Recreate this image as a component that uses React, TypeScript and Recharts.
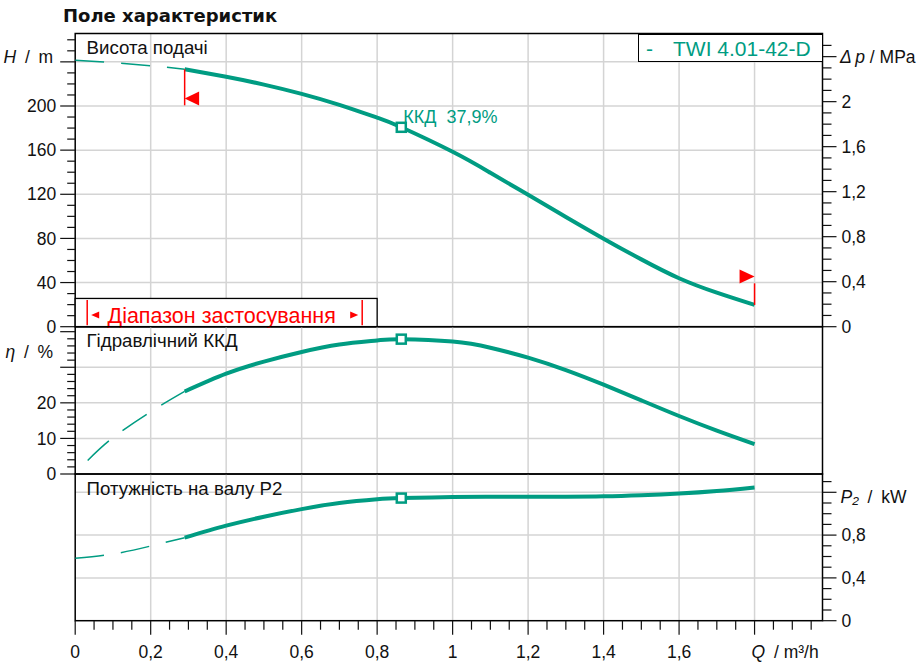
import {
  Legend,
  Line,
  LineChart,
  ReferenceArea,
  ReferenceDot,
  ReferenceLine,
  XAxis,
  YAxis,
} from "recharts";

const TEAL = "#009c82";
const GRID = "#d4d4d4";
const INK = "#111";
const FONT = '"Liberation Sans", Arial, sans-serif';
const SP = "\u2002";

// Q axis, m³/h
const Q_MAX = 1.98;
const qGrid = [0.2, 0.4, 0.6, 0.8, 1, 1.2, 1.4, 1.6, 1.8];
const qTicks = Array.from({ length: 40 }, (_, i) => (i * 5) / 100);

// flow points: dashed part (outside range) and working part
const qDash = [0, 0.1, 0.2, 0.29];
const qRun = [0.29, 0.4, 0.5, 0.6, 0.7, 0.8, 0.864, 1.0, 1.1, 1.2, 1.3, 1.4, 1.5, 1.6, 1.7, 1.8];

// Висота подачі, m
const headDash = [241.4, 239.3, 236.5, 233.3];
const headRun = [233.3, 226.5, 219.4, 211, 201, 189.4, 180.7, 158.5, 139.5, 119.5, 99.5, 79.8, 61, 43.9, 30.8, 19.7];

// Гідравлічний ККД, %
const qEffDash = [0.033, 0.1, 0.2, 0.29];
const effDash = [3.8, 10.2, 17.5, 23.2];
const effRun = [23.2, 28.2, 31.6, 34.3, 36.4, 37.55, 37.9, 37.25, 35.5, 32.7, 29.2, 25.1, 20.7, 16.3, 12.2, 8.4];

// Потужність на валу P2, kW
const powDash = [0.583, 0.623, 0.698, 0.776];
const powRun = [0.776, 0.888, 0.972, 1.043, 1.1, 1.135, 1.146, 1.156, 1.158, 1.158, 1.159, 1.162, 1.172, 1.188, 1.212, 1.245];

// best point
const bestQ = 0.864;
const bestHead = 180.7;
const bestEff = 37.9;
const bestPow = 1.146;

// application range limits
const limLowQ = 0.29;
const limLowH = [233.3, 200.6, 206.8];
const limHighQ = 1.8;
const limHighH = [19.7, 39.3, 45.5];
const rangeBox = { q: [0, 0.8], h: [0, 25.6] };

// axes
const H_MAX = 265.7;
const hTicks = Array.from({ length: 27 }, (_, i) => i * 10);
const hGrid = [40, 80, 120, 160, 200, 240];
const DP_MAX = H_MAX / 101.97;
const dpTicks = Array.from({ length: 26 }, (_, i) => i / 10);
const ETA_MAX = 41.4;
const etaTicks = Array.from({ length: 21 }, (_, i) => i * 2);
const etaGrid = [10, 20, 30];
const P_MAX = 1.371;
const pTicks = Array.from({ length: 14 }, (_, i) => i / 10);
const pGrid = [0.4, 0.8, 1.2];

const rows = (qs: number[], vs: number[]) => qs.map((q, i) => ({ q, v: vs[i] }));
const fmt = (v: number) => String(v).replace(".", ",");

const txt = { fontFamily: FONT, fontSize: 17.5, fill: INK };

function HTick({ x, y, payload }: any) {
  const v = payload.value;
  const major = v % 40 === 0;
  return (
    <g>
      <line x1={x} x2={x - (major ? 15 : 8)} y1={y} y2={y} stroke={INK} strokeWidth={1.2} />
      {major && v < 240 && (
        <text x={x - 19} y={y} dy="0.35em" textAnchor="end" {...txt}>{v}</text>
      )}
      {v === 240 && (
        <text x={x - 22} y={y - 5} dy="0.35em" textAnchor="end" {...txt}>
          <tspan fontStyle="italic">H</tspan>{`${SP}/${SP}m`}
        </text>
      )}
    </g>
  );
}

function DpTick({ x, y, payload }: any) {
  const v = payload.value;
  const major = Math.round(v * 10) % 4 === 0;
  return (
    <g>
      <line x1={x} x2={x + (major ? 14 : 9)} y1={y} y2={y} stroke={INK} strokeWidth={1.2} />
      {major && v < 2.4 && (
        <text x={x + 19} y={y} dy="0.35em" textAnchor="start" {...txt}>{fmt(v)}</text>
      )}
      {v === 2.4 && (
        <text x={x + 17.5} y={y} dy="0.35em" textAnchor="start" {...txt}>
          <tspan fontStyle="italic">{"Δ\u2009p"}</tspan>{" / MPa"}
        </text>
      )}
    </g>
  );
}

function EtaTick({ x, y, payload }: any) {
  const v = payload.value;
  const major = v % 10 === 0;
  return (
    <g>
      <line x1={x} x2={x - (major ? 15 : 8)} y1={y} y2={y} stroke={INK} strokeWidth={1.2} />
      {major && v <= 20 && (
        <text x={x - 19} y={y} dy="0.35em" textAnchor="end" {...txt}>{v}</text>
      )}
      {v === 34 && (
        <text x={x - 22} y={y - 1.5} dy="0.35em" textAnchor="end" {...txt}>
          <tspan fontStyle="italic">η</tspan>{`${SP}/${SP}%`}
        </text>
      )}
    </g>
  );
}

function PTick({ x, y, payload }: any) {
  const v = payload.value;
  const major = Math.round(v * 10) % 4 === 0;
  return (
    <g>
      <line x1={x} x2={x + (major ? 14 : 9)} y1={y} y2={y} stroke={INK} strokeWidth={1.2} />
      {major && v < 1.2 && (
        <text x={x + 19} y={y} dy="0.35em" textAnchor="start" {...txt}>{fmt(v)}</text>
      )}
      {v === 1.2 && (
        <text x={x + 18} y={y + 5} dy="0.35em" textAnchor="start" {...txt}>
          <tspan fontStyle="italic">P₂</tspan>{`${SP}/${SP}kW`}
        </text>
      )}
    </g>
  );
}

function QTick({ x, y, payload }: any) {
  const v = payload.value;
  const major = Math.round(v * 100) % 20 === 0;
  return (
    <g>
      <line x1={x} x2={x} y1={y} y2={y + (major ? 14 : 9)} stroke={INK} strokeWidth={1.2} />
      {major && v < 1.7 && (
        <text x={x} y={y + 37.5} textAnchor="middle" {...txt}>{fmt(v)}</text>
      )}
      {v === 1.8 && (
        <text x={x - 3} y={y + 37.5} textAnchor="start" {...txt}>
          <tspan fontStyle="italic">Q</tspan>{`${SP}/ m³/h`}
        </text>
      )}
    </g>
  );
}

const frame = (title: string) => (p: any) => (
  <g>
    <rect x={p.x} y={p.y} width={p.width} height={p.height} fill="none" stroke="#000" strokeWidth={1.5} />
    <text x={p.x + 11.3} y={p.y + 20.5} fontFamily={FONT} fontSize={18.7} fill={INK}>{title}</text>
  </g>
);

const rangeShape = (p: any) => {
  const { x, y, width, height } = p;
  const cy = y + 16.5;
  const lx = x + 12;
  const rx = x + 287;
  return (
    <g>
      <rect x={x} y={y} width={width} height={height} fill="#fff" stroke="#000" strokeWidth={1.3} />
      <line x1={lx} x2={lx} y1={y + 1.5} y2={y + height - 1.5} stroke="red" strokeWidth={1.5} />
      <line x1={rx} x2={rx} y1={y + 1.5} y2={y + height - 1.5} stroke="red" strokeWidth={1.5} />
      <polygon points={`${lx + 4},${cy} ${lx + 12},${cy - 3.5} ${lx + 12},${cy + 3.5}`} fill="red" />
      <polygon points={`${rx - 4},${cy} ${rx - 12},${cy - 3.5} ${rx - 12},${cy + 3.5}`} fill="red" />
      <text x={x + 146.5} y={y + 24.2} textAnchor="middle" fontFamily={FONT} fontSize={21.5} fill="red">
        Діапазон застосування
      </text>
    </g>
  );
};

const flagLeft = (p: any) => (
  <polygon points={`${p.cx},${p.cy} ${p.cx + 14.5},${p.cy - 7} ${p.cx + 14.5},${p.cy + 7}`} fill="red" />
);
const flagRight = (p: any) => (
  <polygon points={`${p.cx},${p.cy} ${p.cx - 15},${p.cy - 7} ${p.cx - 15},${p.cy + 7}`} fill="red" />
);

const square = (label?: string) => (p: any) => (
  <g>
    <rect x={p.cx - 4.5} y={p.cy - 4.5} width={9} height={9} fill="#fff" stroke={TEAL} strokeWidth={2.5} />
    {label && (
      <text x={p.cx + 2} y={p.cy - 4.5} fontFamily={FONT} fontSize={18} fill={TEAL}>{label}</text>
    )}
  </g>
);

const dashProps = {
  type: "natural" as const,
  dataKey: "v",
  stroke: TEAL,
  strokeWidth: 1.5,
  strokeDasharray: "29 17",
  dot: false,
  activeDot: false,
  isAnimationActive: false,
};
const runProps = {
  type: "natural" as const,
  dataKey: "v",
  stroke: TEAL,
  strokeWidth: 4,
  dot: false,
  activeDot: false,
  isAnimationActive: false,
};

const LegendBox = () => (
  <div
    style={{
      boxSizing: "border-box",
      width: 184.5,
      height: 28.5,
      border: "1.3px solid #000",
      background: "#fff",
      fontFamily: FONT,
      fontSize: 21,
      lineHeight: "26px",
      paddingTop: 1.5,
      color: TEAL,
      whiteSpace: "nowrap",
    }}
  >
    <span style={{ marginLeft: 7 }}>-</span>
    <span style={{ marginLeft: 20 }}>TWI 4.01-42-D</span>
  </div>
);

const vGrid = (yAxisId: string) =>
  qGrid.map((q) => (
    <ReferenceLine key={`v${q}`} x={q} yAxisId={yAxisId} stroke={GRID} strokeWidth={1.5} zIndex={50} />
  ));
const hGridLines = (yAxisId: string, values: number[]) =>
  values.map((v) => (
    <ReferenceLine key={`h${v}`} y={v} yAxisId={yAxisId} stroke={GRID} strokeWidth={1.5} zIndex={50} />
  ));

export default function App() {
  return (
    <div style={{ position: "absolute", left: 0, top: 0, width: 917, height: 663, background: "#fff" }}>
      <div
        style={{
          position: "absolute",
          left: 63,
          top: 6.8,
          fontFamily: '"DejaVu Sans", sans-serif',
          fontWeight: "bold",
          fontSize: 18,
          lineHeight: "18px",
          color: INK,
          whiteSpace: "nowrap",
        }}
      >
        Поле характеристик
      </div>

      {/* Висота подачі */}
      <div style={{ position: "absolute", left: 0, top: 0 }}>
        <LineChart width={917} height={340} margin={{ top: 33.5, right: 34.5, bottom: 13.3, left: 15.2 }}>
          <XAxis type="number" dataKey="q" domain={[0, Q_MAX]} allowDataOverflow hide />
          <YAxis
            yAxisId="h"
            type="number"
            domain={[0, H_MAX]}
            allowDataOverflow
            ticks={hTicks}
            interval={0}
            width={60}
            tickSize={0}
            tickMargin={0}
            axisLine={false}
            tickLine={false}
            tick={(p: any) => <HTick {...p} />}
          />
          <YAxis
            yAxisId="dp"
            orientation="right"
            type="number"
            domain={[0, DP_MAX]}
            allowDataOverflow
            ticks={dpTicks}
            interval={0}
            width={60}
            tickSize={0}
            tickMargin={0}
            axisLine={false}
            tickLine={false}
            tick={(p: any) => <DpTick {...p} />}
          />
          {vGrid("h")}
          {hGridLines("h", hGrid)}
          <ReferenceArea yAxisId="h" x1={0} x2={Q_MAX} y1={0} y2={H_MAX} shape={frame("Висота подачі")} zIndex={60} />
          <ReferenceArea
            yAxisId="h"
            x1={rangeBox.q[0]}
            x2={rangeBox.q[1]}
            y1={rangeBox.h[0]}
            y2={rangeBox.h[1]}
            shape={rangeShape}
            zIndex={70}
          />
          <Line yAxisId="h" data={rows(qDash, headDash)} {...dashProps} />
          <Line yAxisId="h" data={rows(qRun, headRun)} {...runProps} />
          <ReferenceLine
            yAxisId="h"
            segment={[{ x: limLowQ, y: limLowH[0] }, { x: limLowQ, y: limLowH[1] }]}
            stroke="red"
            strokeWidth={1.5}
            zIndex={450}
          />
          <ReferenceLine
            yAxisId="h"
            segment={[{ x: limHighQ, y: limHighH[0] }, { x: limHighQ, y: limHighH[1] }]}
            stroke="red"
            strokeWidth={1.5}
            zIndex={450}
          />
          <ReferenceDot yAxisId="h" x={limLowQ} y={limLowH[2]} shape={flagLeft} zIndex={450} />
          <ReferenceDot yAxisId="h" x={limHighQ} y={limHighH[2]} shape={flagRight} zIndex={450} />
          <ReferenceDot yAxisId="h" x={bestQ} y={bestHead} shape={square("ККД\u00a0\u00a037,9%")} zIndex={600} />
          <Legend
            verticalAlign="middle"
            align="center"
            wrapperStyle={{ left: 638, top: 33.5, width: 184.5, height: 28.5 }}
            content={() => <LegendBox />}
          />
        </LineChart>
      </div>

      {/* Гідравлічний ККД */}
      <div style={{ position: "absolute", left: 0, top: 320 }}>
        <LineChart width={917} height={165} margin={{ top: 6.7, right: 94.5, bottom: 11, left: 15.2 }}>
          <XAxis type="number" dataKey="q" domain={[0, Q_MAX]} allowDataOverflow hide />
          <YAxis
            yAxisId="eta"
            type="number"
            domain={[0, ETA_MAX]}
            allowDataOverflow
            ticks={etaTicks}
            interval={0}
            width={60}
            tickSize={0}
            tickMargin={0}
            axisLine={false}
            tickLine={false}
            tick={(p: any) => <EtaTick {...p} />}
          />
          {vGrid("eta")}
          {hGridLines("eta", etaGrid)}
          <ReferenceArea yAxisId="eta" x1={0} x2={Q_MAX} y1={0} y2={ETA_MAX} shape={frame("Гідравлічний ККД")} zIndex={60} />
          <Line yAxisId="eta" data={rows(qEffDash, effDash)} {...dashProps} />
          <Line yAxisId="eta" data={rows(qRun, effRun)} {...runProps} />
          <ReferenceDot yAxisId="eta" x={bestQ} y={bestEff} shape={square()} zIndex={600} />
        </LineChart>
      </div>

      {/* Потужність на валу P2 */}
      <div style={{ position: "absolute", left: 0, top: 465 }}>
        <LineChart width={917} height={198} margin={{ top: 9, right: 34.5, bottom: 0, left: 75.2 }}>
          <XAxis
            type="number"
            dataKey="q"
            domain={[0, Q_MAX]}
            allowDataOverflow
            ticks={qTicks}
            interval={0}
            height={42.3}
            tickSize={0}
            tickMargin={0}
            axisLine={false}
            tickLine={false}
            tick={(p: any) => <QTick {...p} />}
          />
          <YAxis
            yAxisId="p"
            orientation="right"
            type="number"
            domain={[0, P_MAX]}
            allowDataOverflow
            ticks={pTicks}
            interval={0}
            width={60}
            tickSize={0}
            tickMargin={0}
            axisLine={false}
            tickLine={false}
            tick={(p: any) => <PTick {...p} />}
          />
          {vGrid("p")}
          {hGridLines("p", pGrid)}
          <ReferenceArea yAxisId="p" x1={0} x2={Q_MAX} y1={0} y2={P_MAX} shape={frame("Потужність на валу P2")} zIndex={60} />
          <Line yAxisId="p" data={rows(qDash, powDash)} {...dashProps} />
          <Line yAxisId="p" data={rows(qRun, powRun)} {...runProps} />
          <ReferenceDot yAxisId="p" x={bestQ} y={bestPow} shape={square()} zIndex={600} />
        </LineChart>
      </div>
    </div>
  );
}
